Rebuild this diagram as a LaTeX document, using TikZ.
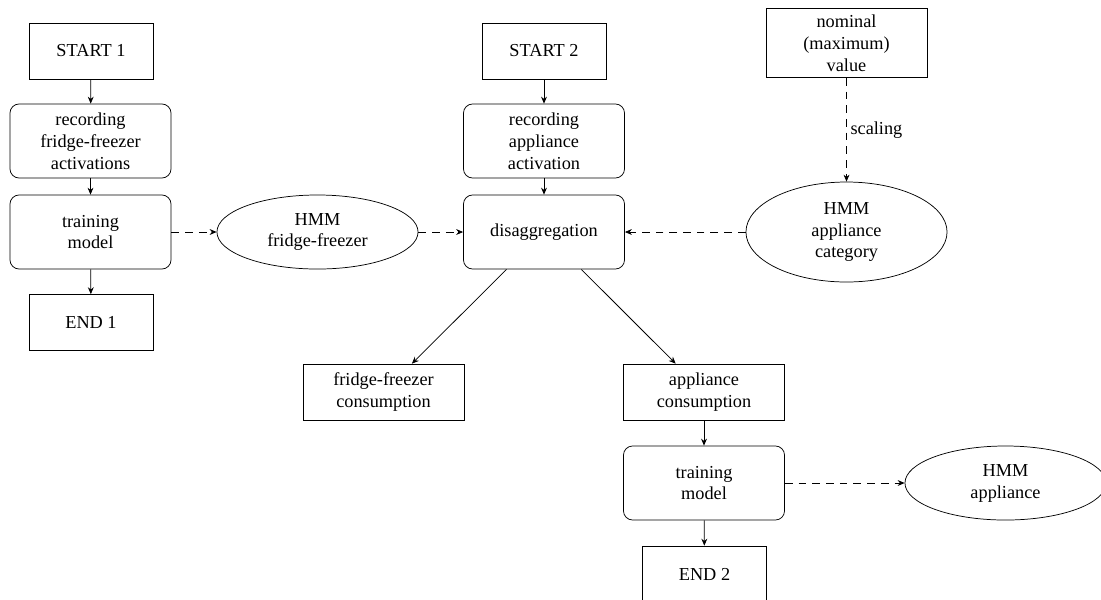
\documentclass[tikz,border=0pt]{standalone}
\usepackage{fontspec}
\setmainfont{Liberation Serif}
\usepackage{tikz}
\usetikzlibrary{positioning, arrows.meta, shapes.geometric}

\begin{document}
\begin{tikzpicture}[
  x=0.547pt, y=-0.547pt,
  >={Stealth[length=3.8pt, width=3.2pt]},
  terminal/.style={rectangle, draw, minimum width=67.8pt, minimum height=30.6pt,
    align=center},
  process/.style={rectangle, draw, rounded corners=5pt, minimum width=88.1pt,
    minimum height=40.5pt, align=center},
  result/.style={rectangle, draw, minimum width=88.1pt, minimum height=30.6pt,
    align=center},
  model/.style={ellipse, draw, minimum width=110pt, minimum height=#1,
    inner sep=1pt, align=center},
  model/.default={40.5pt},
  flow/.style={->},
  dflow/.style={->, dashed, dash pattern=on 4.2pt off 3.3pt},
  flbl/.style={font=\normalsize, inner sep=2pt},
]
\useasboundingbox (0,0) rectangle (1101,599);

% --- Branch 1: fridge-freezer ---
\node[terminal] (start1) at (91, 51)    {START 1};
\node[process]  (rec1)   at (90.5, 141) {recording\\fridge-freezer\\activations};
\node[process]  (train1) at (90.5, 232) {training\\model};
\node[terminal] (end1)   at (91, 322.5) {END 1};
\node[model]    (hmmff)  at (317.5, 232) {HMM\\fridge-freezer};

% --- Branch 2: appliance ---
\node[terminal] (start2) at (544, 51)  {START 2};
\node[process]  (rec2)   at (544, 141) {recording\\appliance\\activation};
\node[process]  (disagg) at (544, 232) {disaggregation};

% --- Appliance category ---
\node[rectangle, draw, minimum width=88.1pt, minimum height=37.2pt, align=center]
  (nominal) at (846.5, 43) {nominal\\(maximum)\\value};
\node[model=54.7pt] (hmmcat) at (846.5, 232) {HMM\\appliance\\category};

% --- Outputs ---
\node[result]   (ffcons)  at (383.5, 392) {fridge-freezer\\consumption};
\node[result]   (appcons) at (704, 392)   {appliance\\consumption};
\node[process]  (train2)  at (704, 483)   {training\\model};
\node[terminal] (end2)    at (704.5, 574) {END 2};
\node[model]    (hmmapp)  at (1005.5, 483) {HMM\\appliance};

% --- Connectors ---
\draw[flow] (start1) -- (rec1);
\draw[flow] (rec1) -- (train1);
\draw[flow] (train1) -- (end1);
\draw[dflow] (train1) -- (hmmff);
\draw[dflow] (hmmff) -- (disagg);

\draw[flow] (start2) -- (rec2);
\draw[flow] (rec2) -- (disagg);
\draw[dflow] (hmmcat) -- (disagg);
\draw[dflow] (nominal) -- node[flbl, right] {scaling} (hmmcat);

\draw[flow] (disagg) -- (ffcons);
\draw[flow] (disagg) -- (appcons);
\draw[flow] (appcons) -- (train2);
\draw[flow] (train2) -- (end2);
\draw[dflow] (train2) -- (hmmapp);

\end{tikzpicture}
\end{document}
